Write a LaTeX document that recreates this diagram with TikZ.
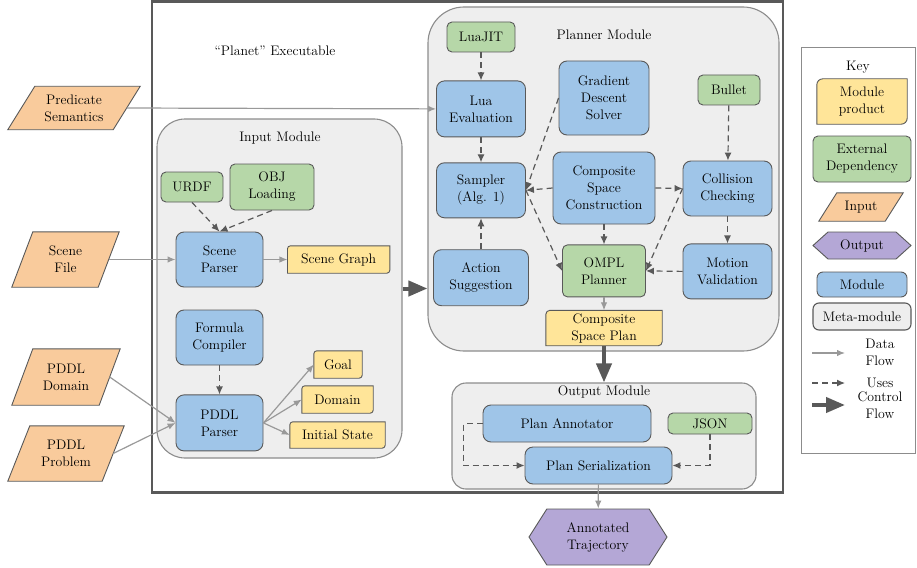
\documentclass[tikz,border=0pt]{standalone}
\usepackage{fontspec}
\usepackage{tikz}
\usetikzlibrary{arrows.meta,positioning,shapes.symbols}

\definecolor{modblue}{HTML}{9FC5E8}
\definecolor{depgreen}{HTML}{B6D7A8}
\definecolor{prodyellow}{HTML}{FFE599}
\definecolor{inorange}{HTML}{F9CB9C}
\definecolor{outpurple}{HTML}{B4A7D6}
\definecolor{metagray}{HTML}{EEEEEE}
\definecolor{edgegray}{HTML}{595959}
\definecolor{flowgray}{HTML}{999999}
\definecolor{metaedge}{HTML}{8C8C8C}

\pgfdeclarelayer{meta}
\pgfdeclarelayer{prod}
\pgfsetlayers{meta,prod,main}

\begin{document}
\begin{tikzpicture}[
    x=1pt, y=-1pt,
    font=\fontsize{13.8}{17}\selectfont,
    every node/.style={align=center, inner sep=2pt},
    wh/.style 2 args={minimum width=#1pt, minimum height=#2pt},
    modbox/.style={draw=edgegray, fill=modblue, line width=0.9pt, rounded corners=8pt},
    depbox/.style={draw=edgegray, fill=depgreen, line width=0.9pt, rounded corners=5pt},
    prodbox/.style={},
    inbox/.style={},
    outbox/.style={signal, signal to=west and east, draw=edgegray, fill=outpurple, line width=0.9pt},
    metabox/.style={draw=metaedge, fill=metagray, line width=1.1pt},
    dataflow/.style={-{Latex[length=8pt,width=6.5pt]}, draw=flowgray, line width=1.2pt},
    useflow/.style={-{Latex[length=8pt,width=7pt]}, draw=edgegray, line width=1.2pt,
                    dash pattern=on 6pt off 4pt},
    ctrlflow/.style={-{Triangle[length=19pt,width=15pt]}, draw=edgegray, line width=4pt}
  ]
    \useasboundingbox (0,0) rectangle (917,567);

    % executable frame and key frame
    \node[draw=edgegray, line width=2.5pt, wh={631}{491}] (planet) at (467.5,247) {};
    \node (planettitle) at (275,51) {“Planet” Executable};
    \node[draw=metaedge, line width=1pt, wh={114}{405}] (key) at (858,250.5) {};
    \node (keytitle) at (858,67) {Key};

    \begin{pgfonlayer}{meta}
      \node[metabox, rounded corners=28pt, wh={245}{339}] (inmod)   at (279.5,288.5) {};
      \node[metabox, rounded corners=36pt, wh={351}{344}] (planmod) at (603.5,179) {};
      \node[metabox, rounded corners=14pt, wh={304}{106}] (outmod)  at (604,436) {};
      \node[metabox, draw=edgegray, rounded corners=6pt, wh={98}{27}] (kmeta) at (862,316.5) {Meta-module};
    \end{pgfonlayer}
    \node (intitle)   at (280,138) {Input Module};
    \node (plantitle) at (604,35)  {Planner Module};
    \node (outtitle)  at (604,392) {Output Module};

    % inputs
    \node[inbox, wh={105}{43}] (pred)  at (74,108)    {Predicate\\Semantics};
    \node[inbox, wh={86}{55}]  (sfile) at (65.5,259.5) {Scene\\File};
    \node[inbox, wh={87}{56}]  (pdom)  at (66,377)    {PDDL\\Domain};
    \node[inbox, wh={94}{55}]  (pprob) at (66,453.5)  {PDDL\\Problem};

    % input module
    \node[depbox, wh={62}{30}] (urdf) at (192,187) {URDF};
    \node[depbox, wh={84}{46}] (obj)  at (272,187) {OBJ\\Loading};
    \node[modbox, wh={87}{55}] (sparser) at (219.5,259.5) {Scene\\Parser};
    \node[prodbox, wh={102}{27}, right=24pt of sparser] (sgraph) {Scene Graph};
    \node[modbox, wh={87}{55}] (formula) at (219.5,337.5) {Formula\\Compiler};
    \node[modbox, wh={87}{56}, below=29pt of formula] (pparser) {PDDL\\Parser};
    \node[prodbox, wh={48}{27}] (goal)   at (338,364.5)   {Goal};
    \node[prodbox, wh={71}{27}] (dom)    at (337.5,399.5) {Domain};
    \node[prodbox, wh={95}{26}] (initst) at (337.5,435)   {Initial State};

    % planner module
    \node[depbox, wh={68}{30}] (luajit) at (481,37) {LuaJIT};
    \node[modbox, wh={89}{56}, below=28pt of luajit]  (lua)     {Lua\\Evaluation};
    \node[modbox, wh={89}{55}, below=25pt of lua]     (sampler) {Sampler\\(Alg. 1)};
    \node[modbox, wh={95}{56}, below=31pt of sampler] (action)  {Action\\Suggestion};
    \node[modbox, wh={90}{74}] (gds) at (604,98)  {Gradient\\Descent\\Solver};
    \node[modbox, wh={102}{72}] (csc) at (604,188) {Composite\\Space\\Construction};
    \node[depbox, wh={83}{52}, below=20pt of csc]   (ompl)  {OMPL\\Planner};
    \node[prodbox, wh={116}{35}, below=13pt of ompl] (cplan) {Composite\\Space Plan};
    \node[depbox, wh={62}{30}] (bullet) at (729,90) {Bullet};
    \node[modbox, wh={89}{55}] (collision) at (727.5,188.5) {Collision\\Checking};
    \node[modbox, wh={89}{55}, below=27pt of collision] (motion) {Motion\\Validation};

    % output module
    \node[modbox, wh={168}{37}] (annot)  at (567,423.5)   {Plan Annotator};
    \node[depbox, wh={84}{21}]  (json)   at (710,423.5)   {JSON};
    \node[modbox, wh={147}{37}] (serial) at (598.5,465.5) {Plan Serialization};
    \node[outbox, signal pointer angle=115, wh={138}{56}] (traj) at (598,537) {Annotated\\Trajectory};

    % key entries
    \node[prodbox, wh={90}{45}] (kprod) at (862,101.5) {Module\\product};
    \node[depbox, wh={98}{46}]  (kdep)  at (862,159)   {External\\Dependency};
    \node[inbox, wh={66}{28}]   (kin)   at (861,207)   {Input};
    \node[outbox, signal pointer angle=84, wh={98}{27}] (kout) at (862,245.5) {Output};
    \node[modbox, rounded corners=6pt, wh={90}{25}] (kmod) at (862,284.5) {Module};
    \coordinate (kdata1) at (812,353);
    \coordinate (kdata2) at (845,353);
    \coordinate (kuse1)  at (812,383);
    \coordinate (kuse2)  at (845,383);
    \coordinate (kctrl1) at (812,405);
    \coordinate (kctrl2) at (845,405);
    \node (kdatatext) at (880,352) {Data\\Flow};
    \node (kusetext)  at (880,383) {Uses};
    \node (kctrltext) at (880,405) {Control\\Flow};

    \begin{pgfonlayer}{prod}
      % module products: rounded on two corners only
      \foreach \p/\r in {sgraph/3,goal/3,dom/3,initst/3,cplan/4,kprod/6}
        \draw[draw=edgegray, fill=prodyellow, line width=0.9pt]
          ([yshift=-\r pt]\p.north west) arc[start angle=180, end angle=90, radius=\r pt]
          -- (\p.north east) -- ([yshift=\r pt]\p.south east)
          arc[start angle=0, end angle=-90, radius=\r pt] -- (\p.south west) -- cycle;
      % inputs: slanted sides
      \foreach \p/\s in {pred/13.5,sfile/10.5,pdom/10.5,pprob/11,kin/9}
        \draw[draw=edgegray, fill=inorange, line width=0.9pt]
          ([xshift=-\s pt]\p.south west) -- ([xshift=\s pt]\p.north west)
          -- ([xshift=\s pt]\p.north east) -- ([xshift=-\s pt]\p.south east) -- cycle;
    \end{pgfonlayer}

    % data flow
    \draw[dataflow] (pred.east)  -- (lua.west);
    \draw[dataflow] (sfile.east) -- (sparser.west);
    \draw[dataflow] (pdom.east)  -- (pparser.west);
    \draw[dataflow] (pprob.east) -- (pparser.west);
    \draw[dataflow] (sparser) -- (sgraph);
    \draw[dataflow] (pparser.east) -- (goal.west);
    \draw[dataflow] (pparser.east) -- (dom.west);
    \draw[dataflow] (pparser.east) -- (initst.west);
    \draw[dataflow] (ompl) -- (cplan);
    \draw[dataflow] (serial) -- (traj);
    \draw[dataflow] (kdata1) -- (kdata2);

    % uses
    \draw[useflow] (urdf.south) -- (sparser.north);
    \draw[useflow] (obj.south)  -- (sparser.north);
    \draw[useflow] (formula) -- (pparser);
    \draw[useflow] (luajit) -- (lua);
    \draw[useflow] (lua) -- (sampler);
    \draw[useflow] (action) -- (sampler);
    \draw[useflow] (gds.west) -- (sampler.east);
    \draw[useflow] (csc.west) -- (sampler.east);
    \draw[useflow] (csc.east) -- (collision.west);
    \draw[useflow] (csc) -- (ompl);
    \draw[useflow] (sampler.east) -- (ompl.west);
    \draw[useflow] (collision.west) -- (ompl.east);
    \draw[useflow] (motion.west) -- (ompl.east);
    \draw[useflow] (bullet) -- (collision);
    \draw[useflow] (collision) -- (motion);
    \draw[useflow] (annot.west) -- ++(-19,0) |- (serial.west);
    \draw[useflow] (json.south) |- (serial.east);
    \draw[useflow] (kuse1) -- (kuse2);

    % control flow
    \draw[ctrlflow] (inmod.east) -- (inmod.east -| planmod.west);
    \draw[ctrlflow] (cplan.south) -- (outmod.north);
    \draw[ctrlflow] (kctrl1) -- (kctrl2);
\end{tikzpicture}
\end{document}
